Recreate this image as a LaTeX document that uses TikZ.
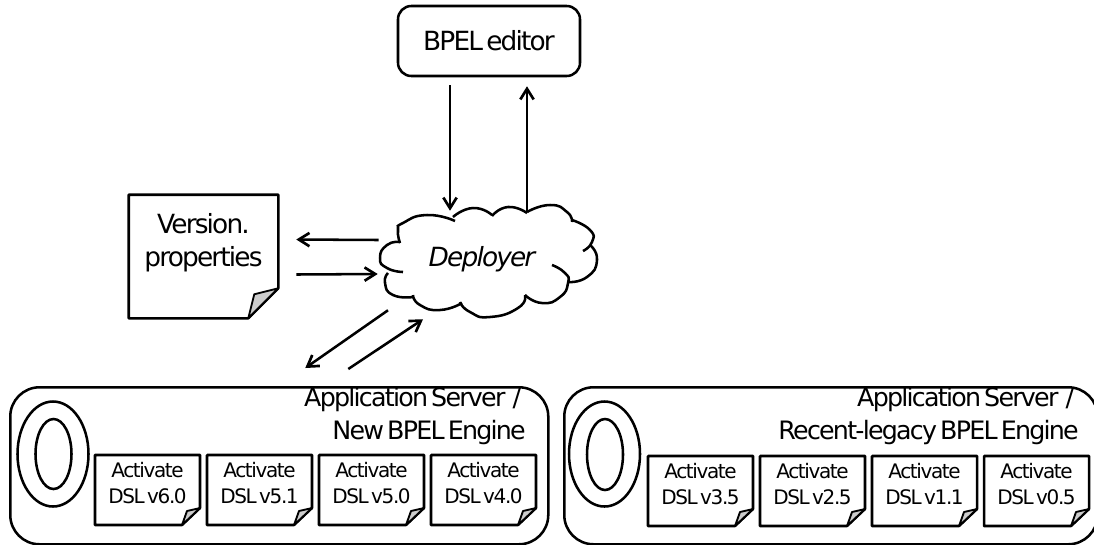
\documentclass[tikz,border=0pt]{standalone}
\usepackage{fontspec}
\setmainfont{DejaVu Sans}[LetterSpace=-7, WordSpace=0.5]
\usetikzlibrary{arrows.meta, positioning}

\begin{document}
\begin{tikzpicture}[
  >={Straight Barb[length=8pt,width=10pt,line width=2pt]},
  x=0.75pt, y=-0.75pt, % one unit is one pixel of the drawing, y runs downwards
  every path/.style={line width=1.9pt},
  flow/.style={->, line width=1.9pt},
  foldface/.style={draw, fill=black!20, line width=1.4pt, line join=round},
  textlabel/.style={align=center, inner sep=0pt, font=\fontsize{19.8}{25}\selectfont},
  smalllabel/.style={align=center, inner sep=0pt, font=\fontsize{15}{19.5}\selectfont},
  serverlabel/.style={align=right, anchor=north east, inner sep=0pt, font=\fontsize{19}{24.5}\selectfont},
  serverbox/.style={draw, rounded corners=22pt, anchor=north west, minimum width=#1, minimum height=117.75pt, inner sep=0pt}
]
  \useasboundingbox (0,0) rectangle (1094,544);

  % editor and deployer
  \node[draw, rounded corners=10pt, minimum width=136.5pt, minimum height=52.5pt, textlabel] (editor) at (489,41) {BPEL editor};
  \node[minimum width=163.5pt, minimum height=84pt, inner sep=0pt, font=\fontsize{19.8}{25}\selectfont\itshape] (deployer) at (482,259) {Deployer};

  % cloud outline, one lobe at a time
  \foreach \lobe in {
    {(400,243) (398,230) (403,223) (427,215) (455,221)},
    {(453,217) (473,208) (492,215)},
    {(492,216) (508,207) (527,213)},
    {(527,212) (550,205) (567,212) (572,222)},
    {(572,220) (590,230) (592,242) (583,251)},
    {(590,245) (597,260) (587,277) (568,282)},
    {(552,265) (565,273) (568,283) (560,297) (542,303) (525,295)},
    {(525,295) (518,308) (490,317) (470,312) (460,302)},
    {(462,303) (440,310) (420,305) (413,295)},
    {(413,297) (393,295) (385,283) (388,273)},
    {(403,272) (387,268) (380,258) (387,245) (400,242)}} {
    \draw plot[smooth, tension=1] coordinates \lobe;
  }

  % version file
  \node[minimum width=110.25pt, minimum height=90.75pt, inner sep=0pt] (version) at (203.5,256.5) {};
  \draw[line join=round] (version.south west) -- (version.north west) -- (version.north east)
    -- ([shift={(0,-30)}]version.south east) -- ([shift={(-30,0)}]version.south east) -- cycle;
  \draw[foldface] ([shift={(0,-30)}]version.south east) -- ([shift={(-24,-24)}]version.south east) -- ([shift={(-30,0)}]version.south east) -- cycle;
  \node[textlabel] (versiontext) at (203.5,243) {Version.\\properties};

  % single note macro: x of left edge, y of top edge, name, text
  \newcommand{\dslnote}[4]{%
    \begin{scope}[shift={(#1,#2)}]
      \draw[line join=round] (0,0) -- (105,0) -- (105,53) -- (87,70) -- (0,70) -- cycle;
      \draw[foldface] (105,53) -- (92,56) -- (87,70) -- cycle;
      \node[smalllabel] (#3) at (52.5,28) {#4};
    \end{scope}
  }

  % left server
  \node[serverbox=403.5pt] (newserver) at (9,386) {};
  \draw (53,454) ellipse (35.5 and 52.5);
  \draw (53.5,454) ellipse (18 and 35);
  \node[serverlabel] (newtitle) at (527,386) {Application Server\kern3pt~/\hspace*{3.5pt}\\New BPEL Engine};
  \dslnote{95}{455}{dslsix}{Activate\\DSL v6.0}
  \dslnote{207}{455}{dslfivea}{Activate\\DSL v5.1}
  \dslnote{319}{455}{dslfive}{Activate\\DSL v5.0}
  \dslnote{431}{455}{dslfour}{Activate\\DSL v4.0}

  % right server
  \node[serverbox=400pt] (oldserver) at (563,386) {};
  \draw (604.5,454) ellipse (35.5 and 52.5);
  \draw (605,454.5) ellipse (18 and 35.5);
  \node[serverlabel] (oldtitle) at (1080,386) {Application Server\kern3pt~/\hspace*{3.5pt}\\Recent-legacy BPEL Engine};
  \dslnote{648}{456}{dslthree}{Activate\\DSL v3.5}
  \dslnote{760}{456}{dsltwo}{Activate\\DSL v2.5}
  \dslnote{872}{456}{dslone}{Activate\\DSL v1.1}
  \dslnote{984}{456}{dslzero}{Activate\\DSL v0.5}

  % exchanges
  \draw[flow] ([shift={(-39,8)}]editor.south) -- ([shift={(-32,9)}]deployer.north);
  \draw[flow] ([shift={(45,10)}]deployer.north) -- ([shift={(38,9)}]editor.south);
  \draw[flow] ([shift={(7,-19)}]deployer.west) -- ([shift={(18,-17)}]version.east);
  \draw[flow] ([shift={(18,18)}]version.east) -- ([shift={(6,15)}]deployer.west);
  \draw[flow] ([shift={(-94,-6)}]deployer.south) -- ([shift={(26,-18)}]newserver.north);
  \draw[flow] ([shift={(69,-17)}]newserver.north) -- ([shift={(-59,3)}]deployer.south);
\end{tikzpicture}
\end{document}
